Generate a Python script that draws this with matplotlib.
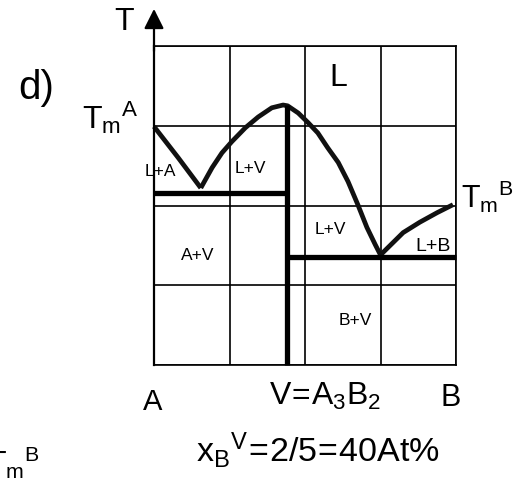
import numpy as np
import matplotlib
matplotlib.use('Agg')
from matplotlib import pyplot as plt

plt.rcParams['font.family'] = ['Liberation Sans', 'DejaVu Sans']
plt.rcParams['mathtext.fontset'] = 'custom'
plt.rcParams['mathtext.rm'] = 'Liberation Sans'

# grid in "cell" units, 4 x 4 cells
grid_ticks = [0, 1, 2, 3, 4]

# liquidus on the A side (Tm^A down to first eutectic)
liq_A_x = [0.0, 0.32, 0.62]
liq_A_y = [2.99, 2.60, 2.22]
# liquidus of the congruent compound V (through the maximum)
liq_V_x = [0.62, 0.77, 0.90, 1.03, 1.21, 1.38, 1.56, 1.71, 1.77, 1.91, 2.04, 2.17,
           2.30, 2.44, 2.57, 2.70, 2.82, 2.93, 3.00]
liq_V_y = [2.22, 2.475, 2.66, 2.80, 2.975, 3.11, 3.225, 3.26, 3.25, 3.16, 3.04, 2.91,
           2.725, 2.54, 2.30, 2.01, 1.725, 1.51, 1.38]
# liquidus on the B side (second eutectic up to Tm^B)
liq_B_x = [3.00, 3.30, 3.52, 3.75, 3.96]
liq_B_y = [1.38, 1.66, 1.79, 1.91, 2.01]

# eutectic isotherms and the compound line
x_V = 1.76
T_eut1 = 2.16
T_eut2 = 1.35
T_max = 3.26

# phase field labels
field_labels = ['L', 'L+A', 'L+V', 'L+V', 'A+V', 'B+V', 'L+B']
field_x = [2.44, 0.09, 1.27, 2.34, 0.58, 2.66, 3.70]
field_y = [3.61, 2.44, 2.475, 1.71, 1.39, 0.575, 1.50]
field_size = [23, 12.5, 12.5, 12.5, 12.5, 12.5, 14]

W, H = 530, 481
fig = plt.figure(figsize=(W / 100, H / 100), dpi=100)
ax = fig.add_axes([154 / W, 1 - 366 / H, 302 / W, 319 / H])
ax.set_xlim(0, 4)
ax.set_ylim(0, 4)
ax.set_xticks(grid_ticks)
ax.set_yticks(grid_ticks)
ax.tick_params(length=0, labelbottom=False, labelleft=False)
ax.grid(True, color='black', lw=1.2)
for s in ax.spines.values():
    s.set_color('black')
    s.set_linewidth(1.2)
ax.spines['left'].set_linewidth(1.6)

# T axis arrow
ax.annotate('', xy=(0, 4.5), xytext=(0, 3.9), annotation_clip=False,
            arrowprops=dict(arrowstyle='-|>', color='black', lw=1.6, mutation_scale=30))

curve_kw = dict(color='#111111', lw=3.4, solid_capstyle='butt', solid_joinstyle='round',
                clip_on=False)
ax.plot(liq_A_x, liq_A_y, **curve_kw)
ax.plot(liq_V_x, liq_V_y, **curve_kw)
ax.plot(liq_B_x, liq_B_y, **curve_kw)

thick_kw = dict(color='black', lw=3.8, solid_capstyle='butt', clip_on=False)
ax.plot([0, x_V], [T_eut1, T_eut1], **thick_kw)
ax.plot([x_V, 4], [T_eut2, T_eut2], **thick_kw)
ax.plot([x_V, x_V], [0, T_max], **thick_kw)

for lab, x, y, fs in zip(field_labels, field_x, field_y, field_size):
    ax.text(x, y, lab, fontsize=fs, ha='center', va='center')


def ftext(px, py, s, **kw):
    fig.text(px / W, 1 - py / H, s, **kw)


ftext(124, 22, 'T', fontsize=23, ha='center', va='center')
ftext(36, 88, 'd)', fontsize=29, ha='center', va='center')
ftext(139, 129, r'$\mathregular{T_m{}^A}$', fontsize=23, ha='right', va='baseline')
ftext(461, 208, r'$\mathregular{T_m{}^B}$', fontsize=22, ha='left', va='baseline')
ftext(-13, 474, r'$\mathregular{T_m{}^B}$', fontsize=22, ha='left', va='baseline')
ftext(153, 410, 'A', fontsize=21, ha='center', va='baseline')
ftext(451, 406, 'B', fontsize=22, ha='center', va='baseline')
ftext(269, 405, r'$\mathregular{V\!=\!A_3B_2}$', fontsize=23, ha='left', va='baseline')
ftext(318, 462, r'$\mathregular{x_B{}^V\!=\!2/5\!=\!40At\%}$', fontsize=24.5, ha='center', va='baseline')

fig.savefig('out.png', dpi=100)
